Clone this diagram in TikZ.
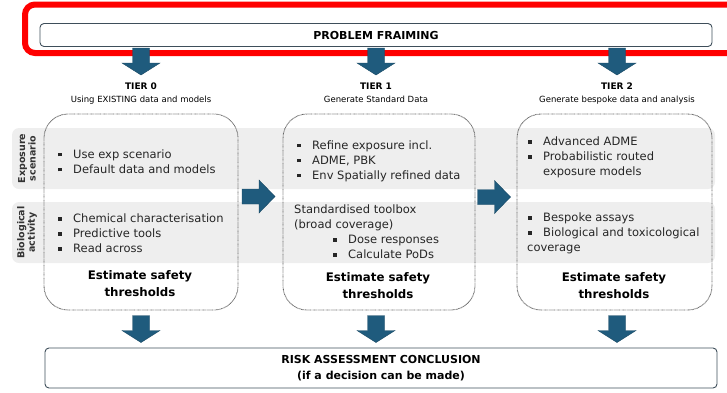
\documentclass[tikz,border=0pt]{standalone}
\usepackage{fontspec}
\setmainfont{DejaVu Sans}
\usetikzlibrary{positioning}
\definecolor{arrblue}{HTML}{1F5B7D}
\definecolor{frameline}{HTML}{3E4E5A}
\definecolor{bandgray}{HTML}{EEEEEE}
\newcommand{\sqb}{\makebox[15pt][l]{\raisebox{2pt}{\rule{3.4pt}{3.4pt}}}}
\newcommand{\hang}{\hspace*{15pt}}

\begin{document}
\begin{tikzpicture}[x=1pt, y=-1pt,
    framebox/.style={rectangle, rounded corners=4pt, draw=frameline, line width=0.9pt, minimum width=672pt, align=center, font=\bfseries\fontsize{11}{16}\selectfont},
    tierbox/.style={rectangle, rounded corners=24pt, draw=black!60, dash pattern=on 0.7pt off 0.6pt, line width=0.9pt, minimum height=196pt},
    band/.style={rectangle, rounded corners=7pt, fill=bandgray, minimum width=703pt, minimum height=61pt},
    tag/.style={rotate=90, align=center, font=\bfseries\fontsize{9.5}{10.5}\selectfont, text=black!80},
    tier/.style={font=\bfseries\fontsize{9}{10}\selectfont},
    tiersub/.style={font=\fontsize{8.5}{10}\selectfont},
    items/.style={anchor=west, align=left, inner sep=0pt, font=\fontsize{11.5}{15}\selectfont, text=black!85},
    verdict/.style={align=center, font=\bfseries\fontsize{11.8}{17}\selectfont},
    arrfill/.style={fill=arrblue, draw=arrblue!80!black, line width=0.4pt},
    pics/downarr/.style={code={
        \path[arrfill] (-8.5,-13.5) -- (8.5,-13.5) -- (8.5,1.5) -- (19,1.5) -- (0,13.5) -- (-19,1.5) -- (-8.5,1.5) -- cycle;}},
    pics/rightarr/.style={code={
        \path[arrfill] (-16.5,-7.5) -- (0.5,-7.5) -- (0.5,-16.5) -- (16.5,0) -- (0.5,16.5) -- (0.5,7.5) -- (-16.5,7.5) -- cycle;}}
]
\useasboundingbox (0,0) rectangle (727,392);

\node[band] (expband) at (363.5,158.5) {};
\node[band] (bioband) at (363.5,232.5) {};
\node[tag] (exptag) at (27,158.5) {Exposure\\scenario};
\node[tag] (biotag) at (27,232.5) {Biological\\activity};

\begin{scope}
\clip (0,0) rectangle (727,392);
\draw[red, line width=6pt, rounded corners=10pt] (25,4.5) rectangle (745,53);
\end{scope}
\node[framebox, minimum height=23pt] (frame) at (376,35) {PROBLEM FRAIMING};

\node[tier] (tier0) at (141,86) {TIER 0};
\node[tiersub, below=0pt of tier0] (sub0) {Using EXISTING data and models};
\node[tier] (tier1) at (376,86) {TIER 1};
\node[tiersub, below=0pt of tier1] (sub1) {Generate Standard Data};
\node[tier] (tier2) at (617,86) {TIER 2};
\node[tiersub, below=0pt of tier2] (sub2) {Generate bespoke data and analysis};

\pic (in0) at (141,61.5) {downarr};
\pic (in1) at (376,61.5) {downarr};
\pic (in2) at (617,61.5) {downarr};

\node[tierbox, minimum width=194pt] (box0) at (141,212) {};
\node[tierbox, minimum width=192pt] (box1) at (379,212) {};
\node[tierbox, minimum width=195pt] (box2) at (614.5,212) {};

\node[items] (exp0) at (58,161.5) {\sqb Use exp scenario\\\sqb Default data and models};
\node[items] (bio0) at (58,233.5) {\sqb Chemical characterisation\\\sqb Predictive tools\\\sqb Read across};
\node[verdict] (est0) at (140,283.5) {Estimate safety\\thresholds};

\node[items] (exp1) at (297,161) {\sqb Refine exposure incl.\\\sqb ADME, PBK\\\sqb Env Spatially refined data};
\node[items] (bio1) at (294,232) {Standardised toolbox\\(broad coverage)\\\hspace*{39pt}\sqb Dose responses\\\hspace*{39pt}\sqb Calculate PoDs};
\node[verdict] (est1) at (378,286) {Estimate safety\\thresholds};

\node[items] (exp2) at (528,157.5) {\sqb Advanced ADME\\\sqb Probabilistic routed\\\hang exposure models};
\node[items] (bio2) at (527,233.5) {\hspace*{1pt}\sqb Bespoke assays\\\hspace*{1pt}\sqb Biological and toxicological\\coverage};
\node[verdict] (est2) at (614,286) {Estimate safety\\thresholds};

\pic (step01) at (258.5,196.5) {rightarr};
\pic (step12) at (494,197) {rightarr};

\pic (out0) at (141,329) {downarr};
\pic (out1) at (376,329) {downarr};
\pic (out2) at (617,329) {downarr};

\node[framebox, minimum height=40pt] (concl) at (381,368) {RISK ASSESSMENT CONCLUSION\\(if a decision can be made)};
\end{tikzpicture}
\end{document}
